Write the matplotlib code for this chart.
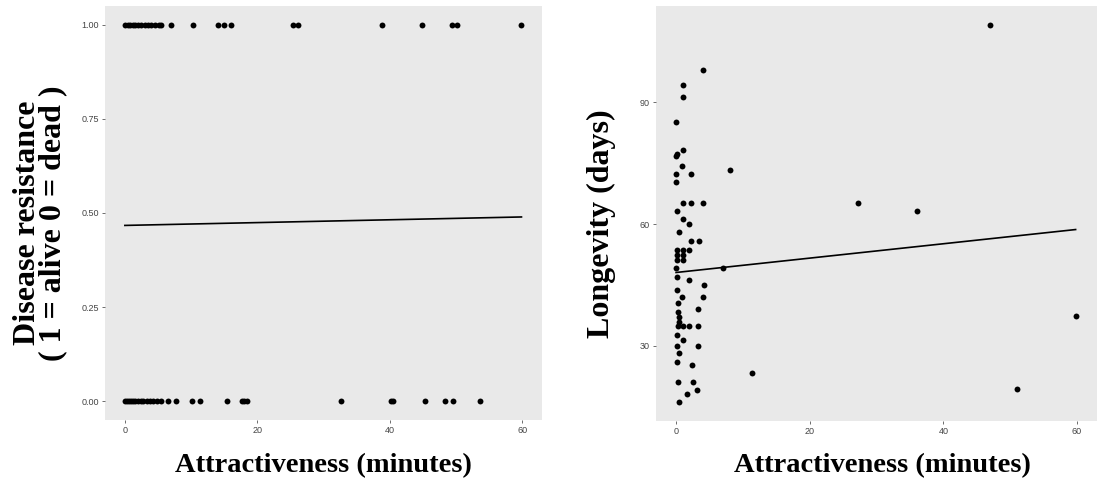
import matplotlib
matplotlib.use('Agg')
import matplotlib.pyplot as plt
import numpy as np

# left panel: disease resistance (1 = alive, 0 = dead) vs attractiveness
alive_x = [0, 0.4, 0.8, 1.2, 1.6, 2.0, 2.5, 3.0, 3.5, 4.0, 4.6, 5.1, 5.5,
           6.9, 10.3, 14.1, 14.9, 16.0, 25.4, 26.1, 38.9, 44.9, 49.4, 50.1, 59.9]
dead_x = [0, 0.3, 0.6, 0.9, 1.2, 1.6, 2.0, 2.4, 2.8, 3.3, 3.8, 4.3, 4.9, 5.5,
          6.5, 7.7, 10.2, 11.3, 15.5, 17.7, 18.0, 18.4, 32.7, 40.2, 40.5,
          45.4, 48.3, 49.6, 53.7]
fit_left = [0.467, 0.000375]   # intercept, slope

# right panel: longevity (days) vs attractiveness
long_x = [47.0, 4.07, 1.0, 1.1, 0, 0, 0.2, 1.1, 0.9, 0, 2.3, 8.1, 0,
          1.1, 2.2, 4.1, 27.2, 36.0, 0.1, 1.1, 2.0, 0.4, 2.2, 3.4,
          0.1, 1.0, 2.0, 0.1, 1.0, 0.1, 1.0, 0, 7.1, 0.1, 2.0, 4.2, 0.2,
          4.1, 0.9, 0.3, 3.3, 0.3, 0.4, 0.5, 0.3, 1.1, 2.0, 3.3, 0.2, 1.1,
          3.3, 0.2, 0.4, 0.1, 2.4, 11.3, 0.3, 2.5, 3.1, 1.6, 0.5, 51.1, 59.8]
long_y = [109.2, 98.1, 94.2, 91.3, 85.2, 76.7, 77.4, 78.2, 74.3, 72.3, 72.3, 73.3, 70.3,
          65.2, 65.2, 65.2, 65.2, 63.3, 63.2, 61.2, 60.0, 58.1, 55.9, 55.9,
          53.6, 53.6, 53.6, 52.4, 52.4, 51.1, 51.1, 49.1, 49.1, 47.0, 46.2, 45.0, 43.9,
          42.1, 42.1, 40.5, 39.0, 38.4, 37.2, 36.0, 34.9, 34.9, 34.9, 34.9, 32.7, 31.5,
          30.0, 30.0, 28.2, 26.1, 25.3, 23.3, 21.2, 21.2, 19.2, 18.1, 16.2, 19.3, 37.4]
fit_right = [48.1, 0.177]

x_ticks = [0, 20, 40, 60]
left_yticks = [0.00, 0.25, 0.50, 0.75, 1.00]
right_yticks = [30, 60, 90]

panel_bg = '#e9e9e9'
serif = ['Liberation Serif', 'DejaVu Serif']

fig = plt.figure(figsize=(10.98, 4.84), dpi=100)
ax1 = fig.add_axes([105 / 1098, 1 - 420 / 484, 437 / 1098, 414 / 484])
ax2 = fig.add_axes([656 / 1098, 1 - 421 / 484, 441 / 1098, 415.5 / 484])


def style(ax):
    ax.set_facecolor(panel_bg)
    for s in ax.spines.values():
        s.set_visible(False)
    ax.tick_params(length=2.5, width=0.6, color='#555555', labelsize=6.5,
                   labelcolor='#444444', pad=2)
    for lab in ax.get_xticklabels() + ax.get_yticklabels():
        lab.set_family('Liberation Sans')


# left
ax1.scatter(alive_x, np.ones(len(alive_x)), s=18, color='black', zorder=3, linewidths=0)
ax1.scatter(dead_x, np.zeros(len(dead_x)), s=18, color='black', zorder=3, linewidths=0)
xl = np.array([0, max(max(alive_x), max(dead_x))])
ax1.plot(xl, fit_left[0] + fit_left[1] * xl, color='black', lw=1.2, zorder=2)
ax1.set_xlim(-3, 63)
ax1.set_ylim(-0.05, 1.05)
ax1.set_xticks(x_ticks)
ax1.set_yticks(left_yticks)
ax1.set_yticklabels(['%.2f' % v for v in left_yticks])
style(ax1)

# right
ax2.scatter(long_x, long_y, s=18, color='black', zorder=3, linewidths=0)
xr = np.array([0, max(long_x)])
ax2.plot(xr, fit_right[0] + fit_right[1] * xr, color='black', lw=1.2, zorder=2)
ax2.set_xlim(-3, 63)
ax2.set_ylim(11.5, 113.9)
ax2.set_xticks(x_ticks)
ax2.set_yticks(right_yticks)
style(ax2)

# axis titles
fig.text(323 / 1098, 1 - 466 / 484, 'Attractiveness (minutes)', ha='center', va='center',
         family=serif, fontweight='bold', fontsize=20.5)
fig.text(882 / 1098, 1 - 466 / 484, 'Attractiveness (minutes)', ha='center', va='center',
         family=serif, fontweight='bold', fontsize=20.5)
fig.text(40 / 1098, 1 - 223 / 484, 'Disease resistance\n( 1 = alive 0 = dead )',
         ha='center', va='center', rotation=90, family=serif, fontweight='bold',
         fontsize=23, linespacing=0.85)
fig.text(601 / 1098, 1 - 224 / 484, 'Longevity (days)', ha='center', va='center',
         rotation=90, family=serif, fontweight='bold', fontsize=23)

fig.savefig('out.png', dpi=100)
